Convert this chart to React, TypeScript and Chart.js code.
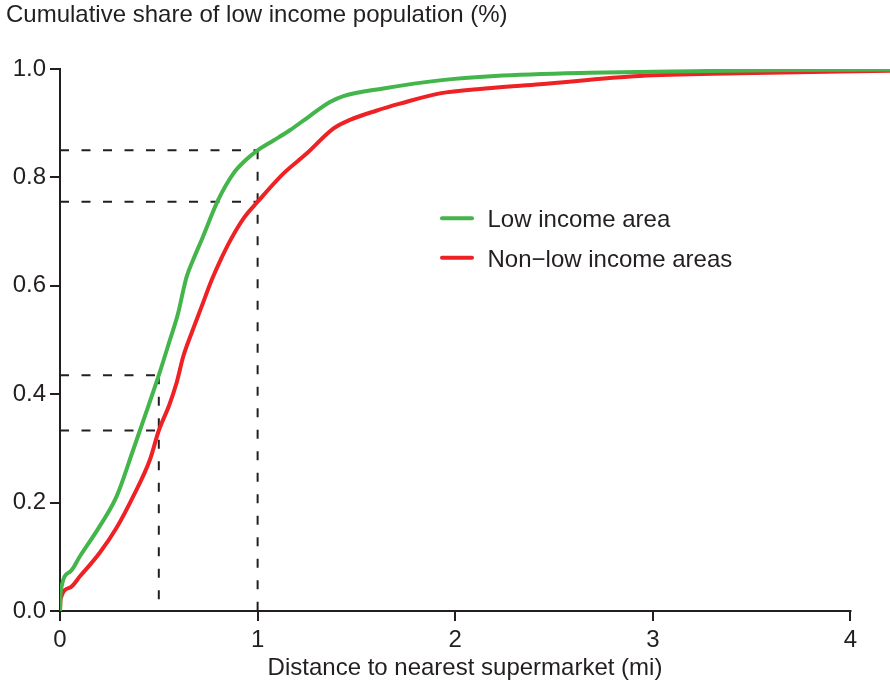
import React, { useEffect, useRef } from "react";
import { Chart, registerables } from "chart.js";

Chart.register(...registerables);

// ---- data ----
const lowIncomeX = [0, 0.003, 0.05, 0.101, 0.202, 0.287, 0.371, 0.447, 0.5, 0.556, 0.598, 0.624, 0.641, 0.674, 0.717, 0.8, 0.877, 0.94, 1.0, 1.08, 1.163, 1.27, 1.366, 1.434, 1.636, 1.922, 2.2, 2.68, 3.2, 3.7, 4.2];
const lowIncomeY = [0, 0.035, 0.072, 0.101, 0.157, 0.212, 0.298, 0.378, 0.435, 0.5, 0.55, 0.592, 0.617, 0.648, 0.685, 0.758, 0.807, 0.832, 0.85, 0.868, 0.887, 0.915, 0.939, 0.95, 0.964, 0.979, 0.987, 0.993, 0.996, 0.998, 0.999];

const nonLowX = [0, 0.003, 0.05, 0.101, 0.202, 0.287, 0.371, 0.455, 0.5, 0.553, 0.59, 0.624, 0.666, 0.717, 0.768, 0.818, 0.868, 0.93, 1.0, 1.13, 1.248, 1.383, 1.467, 1.6, 1.72, 1.922, 2.15, 2.428, 2.934, 3.44, 4.2];
const nonLowY = [0, 0.022, 0.043, 0.064, 0.108, 0.154, 0.212, 0.279, 0.333, 0.38, 0.421, 0.47, 0.513, 0.562, 0.611, 0.652, 0.688, 0.725, 0.755, 0.807, 0.844, 0.89, 0.906, 0.923, 0.936, 0.955, 0.964, 0.972, 0.987, 0.992, 0.997];

const xTicks = [0, 1, 2, 3, 4];
const yTicks = [0, 0.2, 0.4, 0.6, 0.8, 1.0];

const guideX = [0.5, 1.0];
const guideLow = [0.435, 0.85];
const guideNonLow = [0.333, 0.755];

const seriesLabels = ["Low income area", "Non\u2212low income areas"];
const seriesColors = ["#43b54a", "#ee2125"];

const chartTitle = "Cumulative share of low income population (%)";
const xTitle = "Distance to nearest supermarket (mi)";

// ---- style ----
const FAMILY = "'Liberation Sans', Arial, Helvetica, sans-serif";
const FONT_SIZE = 24;
const INK = "#231f20";

const decorPlugin = {
  id: "decor",
  beforeDatasetsDraw(chart: any) {
    const { ctx } = chart;
    const x = chart.scales.x;
    const y = chart.scales.y;
    ctx.save();
    ctx.strokeStyle = INK;
    ctx.lineWidth = 2;
    ctx.setLineDash([9, 12.5]);
    guideX.forEach((gx, i) => {
      const px = x.getPixelForValue(gx);
      [guideLow[i], guideNonLow[i]].forEach((gy) => {
        const py = y.getPixelForValue(gy);
        ctx.beginPath();
        ctx.moveTo(x.getPixelForValue(0), py);
        ctx.lineTo(px, py);
        ctx.stroke();
      });
      ctx.beginPath();
      ctx.moveTo(px, y.getPixelForValue(Math.max(guideLow[i], guideNonLow[i])));
      ctx.lineTo(px, y.getPixelForValue(0));
      ctx.stroke();
    });
    ctx.setLineDash([]);
    // x axis line (from 0 to last tick only)
    const y0 = y.getPixelForValue(0);
    ctx.beginPath();
    ctx.moveTo(x.getPixelForValue(0) - 1, y0);
    ctx.lineTo(x.getPixelForValue(xTicks[xTicks.length - 1]) + 1, y0);
    ctx.stroke();
    ctx.restore();
  },
  afterDraw(chart: any) {
    const { ctx } = chart;
    ctx.save();
    ctx.fillStyle = INK;
    ctx.font = `${FONT_SIZE}px ${FAMILY}`;
    ctx.textBaseline = "alphabetic";
    // chart title
    ctx.textAlign = "left";
    ctx.fillText(chartTitle, 6, 22);
    // x axis title
    ctx.textAlign = "center";
    ctx.fillText(xTitle, 465, 675);
    // legend
    chart.data.datasets.forEach((ds: any, i: number) => {
      const ly = 218.3 + i * 39.4;
      ctx.strokeStyle = ds.borderColor;
      ctx.lineWidth = 4;
      ctx.lineCap = "round";
      ctx.beginPath();
      ctx.moveTo(442, ly);
      ctx.lineTo(472, ly);
      ctx.stroke();
      ctx.textAlign = "left";
      ctx.fillStyle = INK;
      ctx.fillText(ds.label, 487.5, ly + 9);
    });
    ctx.restore();
  },
};

export default function App() {
  const canvasRef = useRef<HTMLCanvasElement | null>(null);

  useEffect(() => {
    if (!canvasRef.current) return;
    const font = { family: FAMILY, size: FONT_SIZE };
    const gridOpts = {
      display: true,
      drawOnChartArea: false,
      drawTicks: true,
      tickLength: 10,
      color: INK,
      lineWidth: 2,
    };
    const chart = new Chart(canvasRef.current, {
      type: "line",
      data: {
        datasets: [
          {
            label: seriesLabels[0],
            data: lowIncomeX.map((v, i) => ({ x: v, y: lowIncomeY[i] })),
            borderColor: seriesColors[0],
            backgroundColor: seriesColors[0],
            borderWidth: 4,
            pointRadius: 0,
            fill: false,
            cubicInterpolationMode: "monotone",
            borderJoinStyle: "round",
          },
          {
            label: seriesLabels[1],
            data: nonLowX.map((v, i) => ({ x: v, y: nonLowY[i] })),
            borderColor: seriesColors[1],
            backgroundColor: seriesColors[1],
            borderWidth: 4,
            pointRadius: 0,
            fill: false,
            cubicInterpolationMode: "monotone",
            borderJoinStyle: "round",
          },
        ],
      },
      options: {
        animation: false,
        responsive: false,
        layout: { padding: { top: 69, left: 0, right: 0, bottom: 0 } },
        plugins: {
          legend: { display: false },
          title: { display: false },
          tooltip: { enabled: false },
        },
        scales: {
          x: {
            type: "linear",
            min: 0,
            max: 4.2,
            afterBuildTicks: (s: any) => {
              s.ticks = xTicks.map((v) => ({ value: v }));
            },
            afterFit: (s: any) => {
              s.height = 76;
            },
            ticks: {
              font,
              color: INK,
              padding: 5,
              maxRotation: 0,
              autoSkip: false,
              callback: (v: any) => String(v),
            },
            grid: gridOpts,
            border: { display: false },
          },
          y: {
            type: "linear",
            min: 0,
            max: 1,
            afterBuildTicks: (s: any) => {
              s.ticks = yTicks.map((v) => ({ value: v }));
            },
            afterFit: (s: any) => {
              s.width = 60;
            },
            ticks: {
              font,
              color: INK,
              padding: 4,
              autoSkip: false,
              callback: (v: any) => Number(v).toFixed(1),
            },
            grid: gridOpts,
            border: { display: true, color: INK, width: 2 },
          },
        },
      } as any,
      plugins: [decorPlugin],
    });
    return () => chart.destroy();
  }, []);

  return (
    <div style={{ position: "absolute", left: 0, top: 0, width: 890, height: 687, background: "#fff" }}>
      <canvas ref={canvasRef} width={890} height={687} />
    </div>
  );
}
